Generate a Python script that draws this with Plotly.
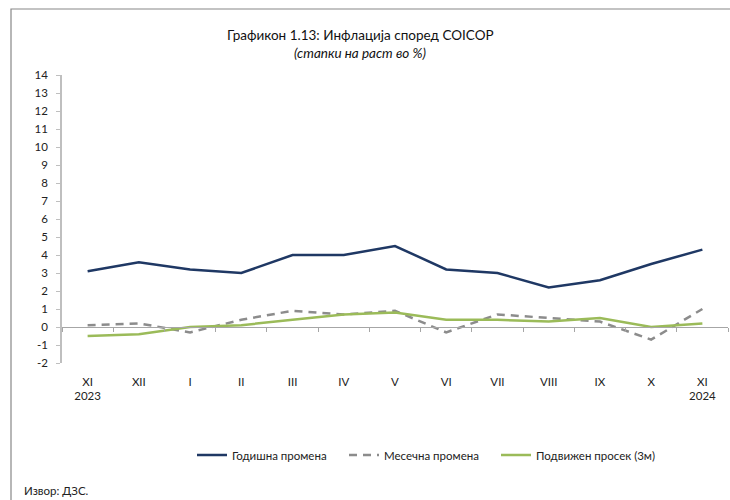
import plotly.graph_objects as go

months = ["XI<br>2023", "XII", "I", "II", "III", "IV", "V", "VI", "VII", "VIII", "IX", "X", "XI<br>2024"]
annual = [3.1, 3.6, 3.2, 3.0, 4.0, 4.0, 4.5, 3.2, 3.0, 2.2, 2.6, 3.5, 4.3]
monthly = [0.1, 0.2, -0.3, 0.4, 0.9, 0.7, 0.9, -0.3, 0.7, 0.5, 0.3, -0.7, 1.0]
moving3m = [-0.5, -0.4, 0.0, 0.1, 0.4, 0.7, 0.8, 0.4, 0.4, 0.3, 0.5, 0.0, 0.2]
y_ticks = list(range(-2, 15))
y_ticktext = [str(v) for v in y_ticks]

FONT = "Lato"
W, H = 730, 500
ML, MR, MT, MB = 62, 2, 75, 137
PW, PH = W - ML - MR, H - MT - MB

def px(x):
    return (x - ML) / PW

def py(y):
    return (H - MB - y) / PH

fig = go.Figure()
fig.add_trace(go.Scatter(x=months, y=annual, mode="lines", name="Годишна промена",
                         legend="legend", line=dict(color="#1F3864", width=2.5)))
fig.add_trace(go.Scatter(x=months, y=monthly, mode="lines", name="Месечна промена",
                         legend="legend2", line=dict(color="#8C8C8C", width=2.5, dash="8px,6px")))
fig.add_trace(go.Scatter(x=months, y=moving3m, mode="lines", name="Подвижен просек (3м)",
                         legend="legend3", line=dict(color="#9BBB59", width=2.5)))
# helper trace for the zero-line axis with category boundary ticks
fig.add_trace(go.Scatter(x=months, y=annual, xaxis="x2", mode="lines", opacity=0,
                         showlegend=False, hoverinfo="skip"))

leg_common = dict(orientation="h", xanchor="left", y=py(455), yanchor="middle",
                  font=dict(size=11.5, color="#222222"), bgcolor="rgba(0,0,0,0)")

fig.update_layout(
    width=W, height=H,
    margin=dict(l=ML, r=MR, t=MT, b=MB),
    paper_bgcolor="white", plot_bgcolor="white",
    font=dict(family=FONT, size=11.5, color="#222222"),
    showlegend=True,
    legend=dict(x=px(192), **leg_common),
    legend2=dict(x=px(344), **leg_common),
    legend3=dict(x=px(496), **leg_common),
    xaxis=dict(type="category", categoryorder="array", categoryarray=months,
               range=[-0.5, 12.5], showline=False, ticks="", showgrid=False, zeroline=False,
               tickfont=dict(size=11.5, color="#222222"), ticklabelstandoff=10),
    xaxis2=dict(type="category", categoryorder="array", categoryarray=months,
                overlaying="x", anchor="free", position=2 / 16, range=[-0.5, 12.5],
                showline=True, linecolor="#A6A6A6", linewidth=1.2, ticks="outside",
                tickson="boundaries", ticklen=4, tickcolor="#A6A6A6",
                showticklabels=False, showgrid=False, zeroline=False),
    yaxis=dict(range=[-2, 14], tickvals=y_ticks, ticktext=y_ticktext, showgrid=False,
               zeroline=False, showline=True, linecolor="#BFBFBF", linewidth=1.5,
               ticks="outside", ticklen=4, tickcolor="#BFBFBF", ticklabelstandoff=6,
               tickfont=dict(size=11.5, color="#222222")),
    annotations=[
        dict(text="Графикон 1.13: Инфлација според COICOP", x=px(360), y=py(35),
             xref="paper", yref="paper", showarrow=False, xanchor="center", yanchor="middle",
             font=dict(size=13.5, color="#111111")),
        dict(text="<i>(стапки на раст во %)</i>", x=px(360), y=py(53),
             xref="paper", yref="paper", showarrow=False, xanchor="center", yanchor="middle",
             font=dict(size=13.5, color="#111111")),
        dict(text="Извор: ДЗС.", x=px(22), y=py(490), xref="paper", yref="paper",
             showarrow=False, xanchor="left", yanchor="middle",
             font=dict(size=11.5, color="#222222")),
    ],
    shapes=[
        dict(type="rect", xref="paper", yref="paper", x0=px(11), x1=px(760), y0=py(520), y1=py(9),
             line=dict(color="#888888", width=1.2), fillcolor="rgba(0,0,0,0)", layer="below"),
    ],
)

fig.write_html("out.html", config={"displayModeBar": False},
               post_script="document.body.style.margin='0';document.body.style.overflow='hidden';")
